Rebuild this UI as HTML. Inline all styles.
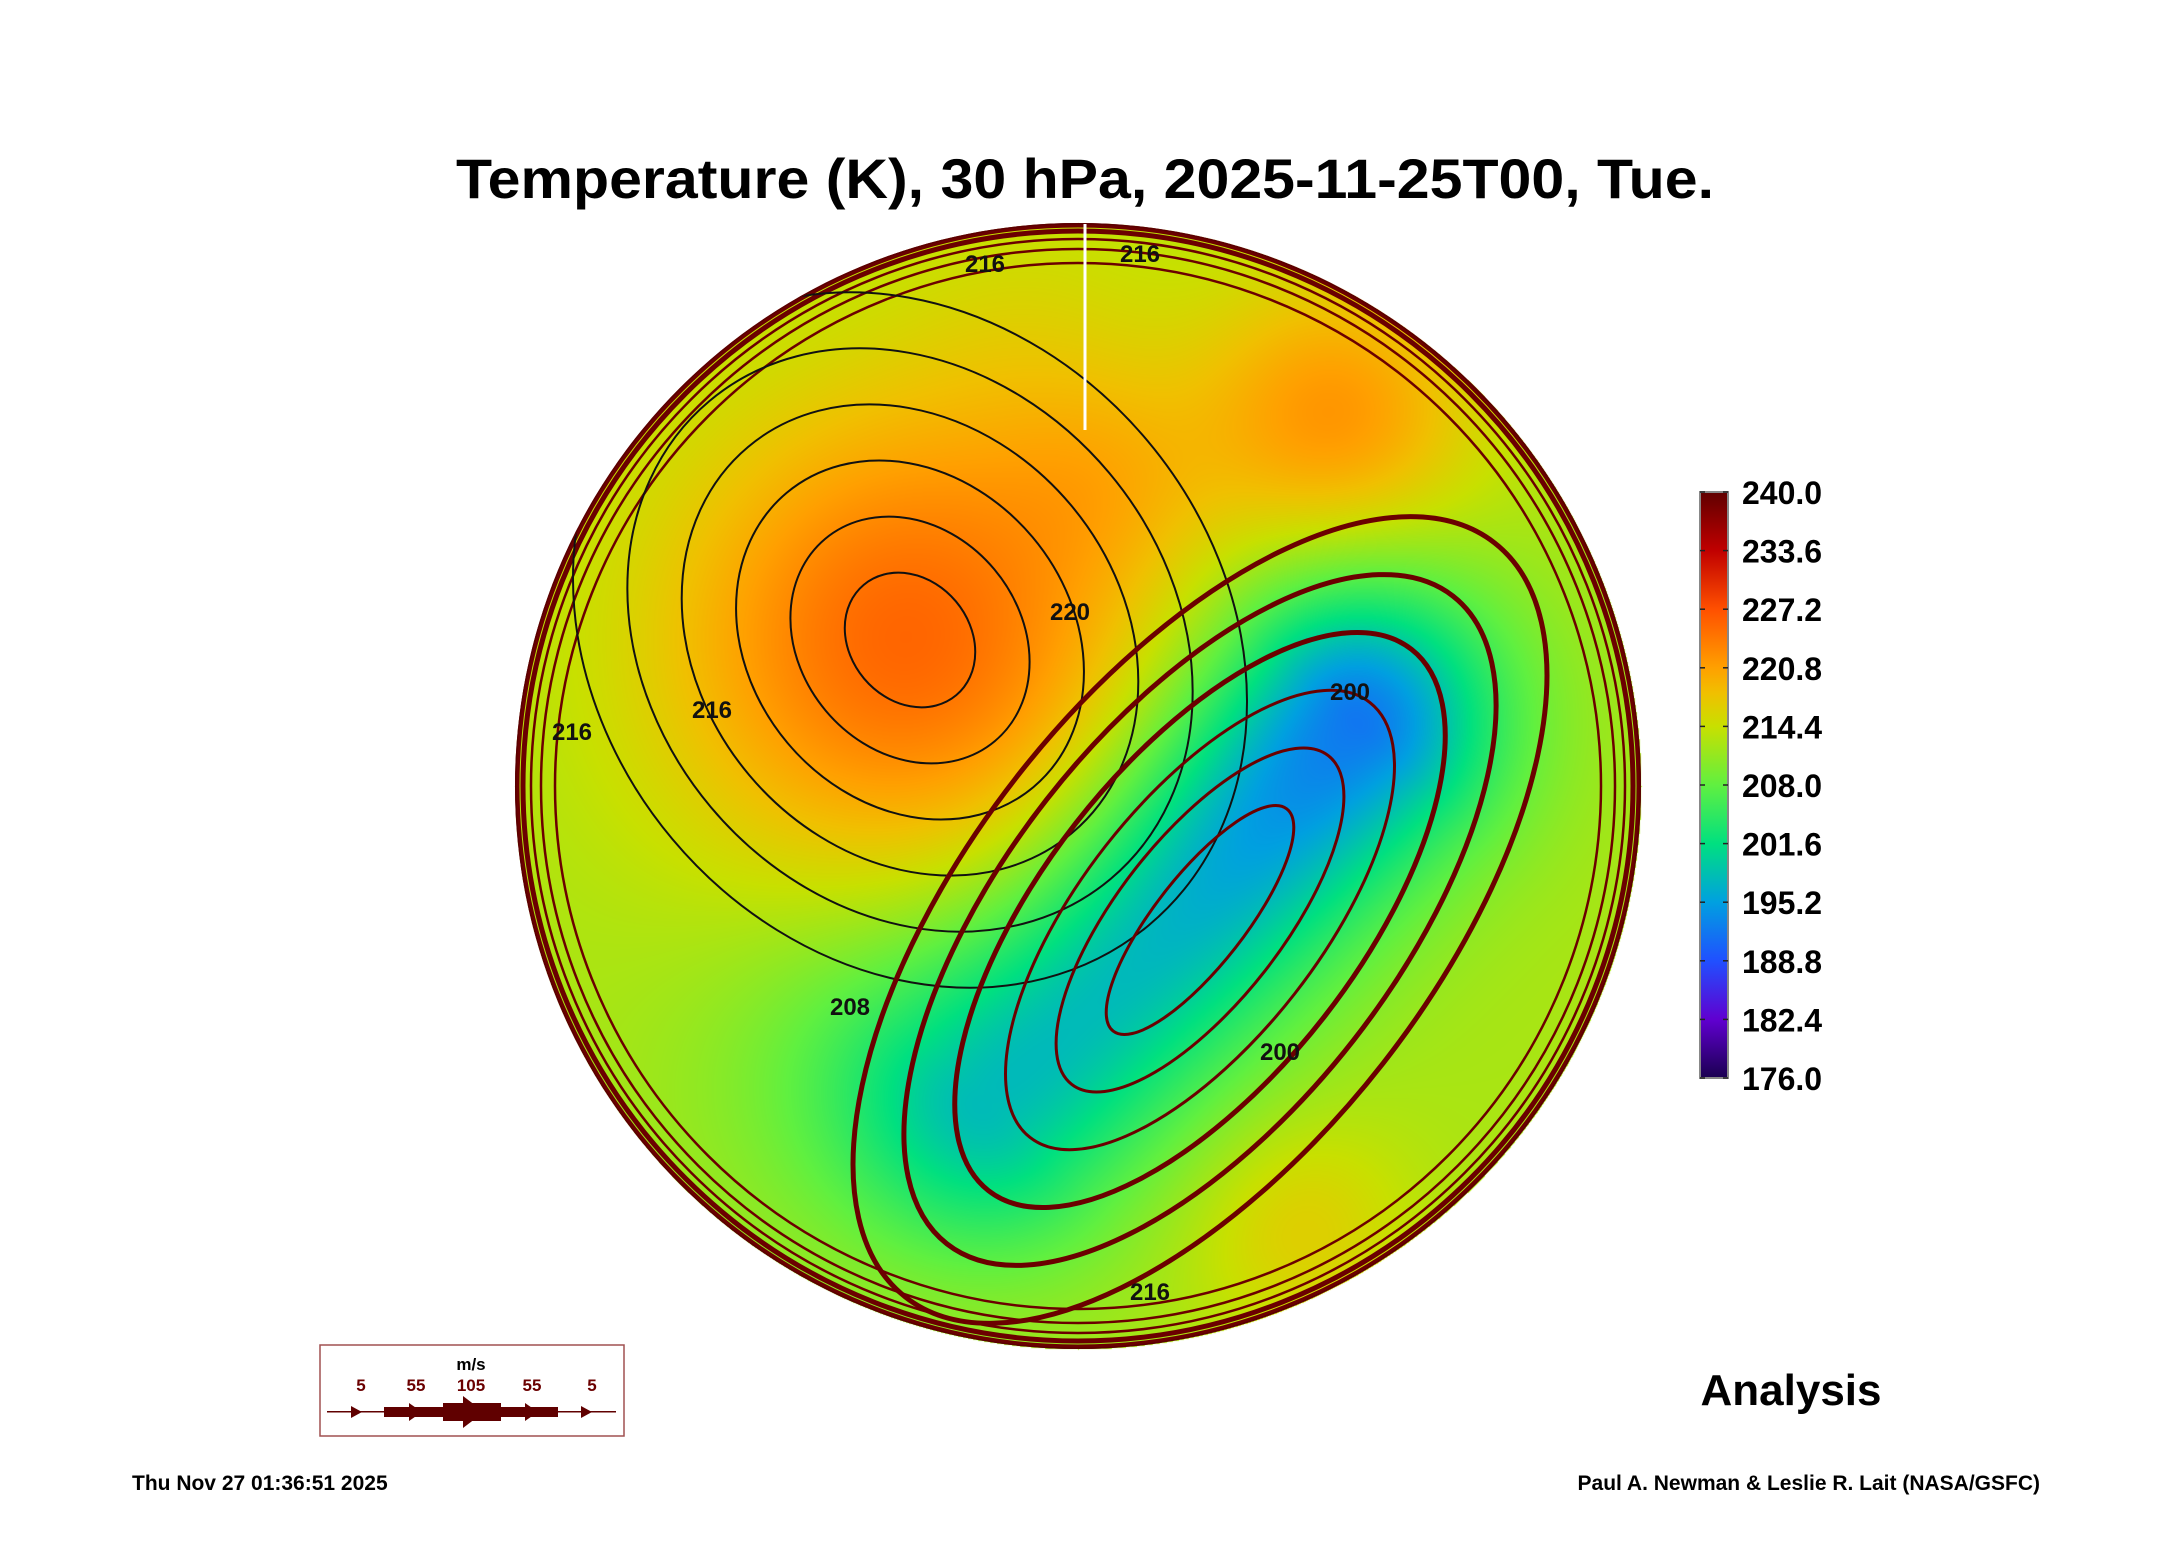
<!DOCTYPE html>
<html><head><meta charset="utf-8">
<style>
html,body{margin:0;padding:0;background:#fff;}
#root{position:relative;width:2165px;height:1561px;overflow:hidden;font-family:"Liberation Sans",Arial,sans-serif;}
#map{position:absolute;left:0;top:0;}
svg{position:absolute;left:0;top:0;}
</style></head>
<body>
<div id="root">
<canvas id="map" width="2165" height="1561"></canvas>
<svg id="ov" width="2165" height="1561">
  <defs><clipPath id="disk"><circle cx="1078" cy="786" r="563"/></clipPath></defs>
  <text x="1085" y="198" text-anchor="middle" font-size="56" font-weight="bold" textLength="1258" lengthAdjust="spacingAndGlyphs">Temperature (K), 30 hPa, 2025-11-25T00, Tue.</text>
  <g id="contours" clip-path="url(#disk)"></g>
  <g id="cbar"></g>
  <g>
    <rect x="320" y="1345" width="304" height="91" fill="none" stroke="#a05050" stroke-width="1.5"/>
    <text x="471" y="1370" text-anchor="middle" font-size="17" font-weight="bold">m/s</text>
    <g font-size="17" font-weight="bold" fill="#6b0000" text-anchor="middle">
      <text x="361" y="1391">5</text>
      <text x="416" y="1391">55</text>
      <text x="471" y="1391">105</text>
      <text x="532" y="1391">55</text>
      <text x="592" y="1391">5</text>
    </g>
    <g fill="#600000" stroke="none">
      <rect x="327" y="1411" width="289" height="1.5"/>
      <rect x="384" y="1407" width="59" height="10"/>
      <rect x="443" y="1403" width="58" height="18"/>
      <rect x="501" y="1407" width="57" height="10"/>
      <polygon points="351,1406 362,1412 351,1418"/>
      <polygon points="409,1403 422,1412 409,1421"/>
      <polygon points="463,1396 484,1412 463,1428"/>
      <polygon points="525,1403 538,1412 525,1421"/>
      <polygon points="581,1406 592,1412 581,1418"/>
    </g>
  </g>
  <text x="1791" y="1405" text-anchor="middle" font-size="44" font-weight="bold">Analysis</text>
  <text x="132" y="1490" font-size="21" font-weight="bold">Thu Nov 27 01:36:51 2025</text>
  <text x="2040" y="1490" text-anchor="end" font-size="21" font-weight="bold">Paul A. Newman &amp; Leslie R. Lait (NASA/GSFC)</text>
</svg>
</div>
<script>
// colorbar data
const cbTicks=["240.0","233.6","227.2","220.8","214.4","208.0","201.6","195.2","188.8","182.4","176.0"];
const cmapVals=[176,182.4,188.8,195.2,201.6,208,214.4,218,220.8,227.2,233.6,240];
const cmapCols=[[26,0,80],[96,0,208],[32,80,255],[0,160,224],[0,224,128],[96,240,64],[200,224,0],[240,192,0],[255,160,0],[255,80,0],[192,0,0],[96,0,0]];
// field anomalies: centers and amplitudes (K)
const blobX=[905,1335,1300,888,1040,1110];
const blobY=[640,416,1230,1055,330,480];
const blobAmp=[13,9,4,-5,2,3];
const blobSig=[240,140,110,180,150,110];
const coldStartX=[1353], coldStartY=[722], coldEndX=[1000], coldEndY=[1110], coldAmp=[-21], coldSig=[145];
const baseT=212.5;
const CX=1078,CY=786,R=563;

function col(t){
  if(t<=cmapVals[0])return cmapCols[0];
  for(let i=1;i<cmapVals.length;i++){if(t<=cmapVals[i]){const f=(t-cmapVals[i-1])/(cmapVals[i]-cmapVals[i-1]);const a=cmapCols[i-1],b=cmapCols[i];return [a[0]+(b[0]-a[0])*f,a[1]+(b[1]-a[1])*f,a[2]+(b[2]-a[2])*f];}}
  return cmapCols[cmapCols.length-1];
}
function field(x,y){
  let t=baseT;
  for(let i=0;i<blobX.length;i++){const dx=x-blobX[i],dy=y-blobY[i];t+=blobAmp[i]*Math.exp(-(dx*dx+dy*dy)/(blobSig[i]*blobSig[i]));}
  for(let i=0;i<coldAmp.length;i++){
    const vx=coldEndX[i]-coldStartX[i],vy=coldEndY[i]-coldStartY[i];
    let u=((x-coldStartX[i])*vx+(y-coldStartY[i])*vy)/(vx*vx+vy*vy);u=Math.max(0,Math.min(1,u));
    const px=coldStartX[i]+u*vx,py=coldStartY[i]+u*vy;const dx=x-px,dy=y-py;
    t+=coldAmp[i]*(1-0.45*u)*Math.exp(-(dx*dx+dy*dy)/(coldSig[i]*coldSig[i]));
  }
  return t;
}
const cv=document.getElementById('map'),ctx=cv.getContext('2d');
const img=ctx.createImageData(2165,1561);
for(let y=CY-R;y<=CY+R;y++)for(let x=CX-R;x<=CX+R;x++){
  const dx=x-CX,dy=y-CY;if(dx*dx+dy*dy>R*R)continue;
  const c=col(field(x,y));const k=(y*2165+x)*4;
  img.data[k]=c[0];img.data[k+1]=c[1];img.data[k+2]=c[2];img.data[k+3]=255;
}
ctx.putImageData(img,0,0);

const NS='http://www.w3.org/2000/svg';
const g=document.getElementById('contours');
function el(tag,attrs,parent){const e=document.createElementNS(NS,tag);for(const k in attrs)e.setAttribute(k,attrs[k]);parent.appendChild(e);return e;}
// rim streamlines
const rimOffsets=[2,8,16,26,40];
rimOffsets.forEach((o,i)=>{
  const c=el('circle',{cx:CX,cy:CY,r:R-o,fill:'none',stroke:'#6b0000','stroke-width':i<2?5:2.5},g);
  
  
});
// warm-blob contours (black)
const warmRx=[60,110,160,210,260,310];
warmRx.forEach(r=>{
  const e=el('ellipse',{cx:910,cy:640,rx:r,ry:r*1.2,fill:'none',stroke:'#111','stroke-width':2,transform:'rotate(-40 910 640)'},g);
  
  
});
// cold-vortex streamlines (dark red)
const coldRx=[60,110,160,210,260,310];
coldRx.forEach((r,i)=>{
  const e=el('ellipse',{cx:1200,cy:920,rx:r*0.75,ry:r*1.35+60,fill:'none',stroke:'#6b0000','stroke-width':i>2?5:3,transform:'rotate(38 1200 920)'},g);
  
  
});
// outer boundary
const ob=el('circle',{cx:CX,cy:CY,r:R,fill:'none',stroke:'#5a0000','stroke-width':3},g);


const ml=el('line',{x1:1085,y1:224,x2:1085,y2:430,stroke:'#fff','stroke-width':3},g);


// contour labels
const lblT=["216","216","216","216","208","200","200","220","216"];
const lblX=[985,1140,712,572,850,1350,1280,1070,1150];
const lblY=[272,262,718,740,1015,700,1060,620,1300];
lblT.forEach((t,i)=>{
  const e=el('text',{x:lblX[i],y:lblY[i],'font-size':24,'font-weight':'bold',fill:'#111','text-anchor':'middle'},g);
  e.textContent=t;
  
  
});
// colorbar
const cb=document.getElementById('cbar');
const bx=1700,bw=28,by0=492,by1=1078;
const defs=el('defs',{},cb);
const lg=el('linearGradient',{id:'cbg',x1:0,y1:1,x2:0,y2:0},defs);
cmapVals.forEach((v,i)=>{el('stop',{offset:((v-176)/64),'stop-color':'rgb('+cmapCols[i].join(',')+')'},lg);});
const cr=el('rect',{x:bx,y:by0,width:bw,height:by1-by0,fill:'url(#cbg)',stroke:'#888','stroke-width':2},cb);


cbTicks.forEach((t,i)=>{
  const y=by0+(by1-by0)*i/(cbTicks.length-1);
  el('line',{x1:bx,y1:y,x2:bx+5,y2:y,stroke:'#222','stroke-width':1.5},cb);
  el('line',{x1:bx+bw-5,y1:y,x2:bx+bw,y2:y,stroke:'#222','stroke-width':1.5},cb);
  const tx=el('text',{x:1742,y:y+12,'font-size':32,'font-weight':'bold'},cb);
  tx.textContent=t;
  
  
});
</script>
</body></html>
